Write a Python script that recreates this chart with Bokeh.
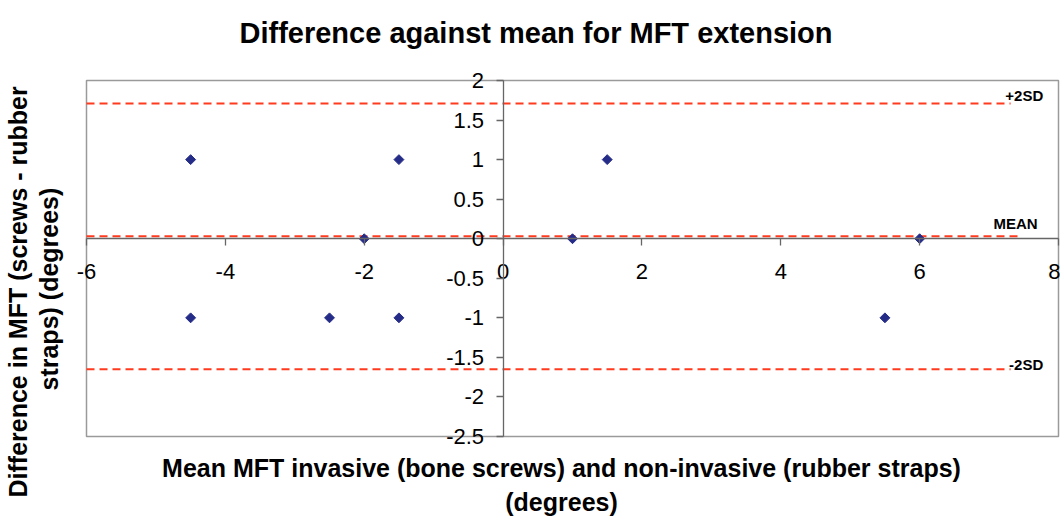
import math
from bokeh.plotting import figure
from bokeh.models import Title, FixedTicker, ColumnDataSource
from bokeh.embed import file_html
from bokeh.resources import INLINE
from bokeh.core.properties import value

# Data
mean_vals = [-4.5, -1.5, 1.5, -2.0, 1.0, 6.0, -4.5, -2.5, -1.5, 5.5]
diff_vals = [1, 1, 1, 0, 0, 0, -1, -1, -1, -1]

mean_diff = 0.03
upper_sd = 1.71
lower_sd = -1.65

x_ticks = [-6, -4, -2, 0, 2, 4, 6, 8]
y_ticks = [-2.5, -2, -1.5, -1, -0.5, 0, 0.5, 1, 1.5, 2]

ref_names = ["+2SD", "MEAN", "-2SD"]
ref_values = [upper_sd, mean_diff, lower_sd]

FONT = "Liberation Sans"


def fmt(v):
    return "%g" % v


p = figure(width=1060, height=516, output_backend="svg", toolbar_location=None,
           x_range=(-6.3457, 8.0288), y_range=(-2.6517, 2.177),
           min_border_left=62, min_border_right=0, min_border_top=66, min_border_bottom=68)

p.title.text = "Difference against mean for MFT extension"
p.title.align = "left"
p.title.offset = 177
p.title.vertical_align = "top"
p.title.text_font = FONT
p.title.text_font_size = "29px"
p.title.text_font_style = "bold"
p.title.text_color = "black"
p.title.standoff = 32

p.xgrid.visible = False
p.ygrid.visible = False
p.outline_line_color = None
p.background_fill_color = "white"

# plot box
p.quad(left=[x_ticks[0]], right=[x_ticks[-1]], bottom=[y_ticks[0]], top=[y_ticks[-1]],
       fill_color=None, line_color="#9a9a9a", line_width=1.5)

# axes crossing in the middle
for ax in (p.xaxis, p.yaxis):
    ax.fixed_location = 0
    ax.axis_line_color = "#666666"
    ax.axis_line_width = 1.3
    ax.major_tick_line_color = "#666666"
    ax.major_tick_line_width = 1.3
    ax.major_tick_in = 0
    ax.major_tick_out = 7
    ax.minor_tick_line_color = None
    ax.major_label_text_font = FONT
    ax.major_label_text_font_size = "22px"
    ax.major_label_text_color = "black"

p.xaxis.ticker = FixedTicker(ticks=x_ticks)
p.yaxis.ticker = FixedTicker(ticks=y_ticks)
p.xaxis.bounds = (x_ticks[0], x_ticks[-1])
p.yaxis.bounds = (y_ticks[0], y_ticks[-1])
p.xaxis.major_label_overrides = {t: fmt(t) for t in x_ticks}
p.yaxis.major_label_overrides = {t: fmt(t) for t in y_ticks}
p.xaxis.major_label_standoff = 18
p.yaxis.major_label_standoff = 12

# axis titles (two lines each)
tkw = dict(text_font=FONT, text_font_size="25px", text_font_style="bold",
           text_color="black")
p.add_layout(Title(text="Mean MFT invasive (bone screws) and non-invasive (rubber straps)",
                   align="center", standoff=7, **tkw), "below")
p.add_layout(Title(text="(degrees)", align="center", standoff=0, **tkw), "below")
p.add_layout(Title(text="straps) (degrees)", align="left", offset=58, standoff=0, **tkw), "left")
p.add_layout(Title(text="Difference in MFT (screws - rubber", align="left", offset=-49,
                   standoff=2, **tkw), "left")

# reference lines
src_lines = ColumnDataSource(dict(
    x0=[x_ticks[0]] * 3, x1=[7.31, 7.45, 7.31], y=ref_values))
p.segment(x0="x0", y0="y", x1="x1", y1="y", source=src_lines,
          line_color="#ff3b1f", line_width=2, line_dash="8 5")

src_lab = ColumnDataSource(dict(x=[7.78, 7.70, 7.78], y=ref_values, t=ref_names,
                                yo=[1, -4, 4]))
p.text(x="x", y="y", text="t", y_offset="yo", source=src_lab,
       text_align="right", text_baseline="bottom",
       text_font=value(FONT), text_font_size="15px", text_font_style="bold",
       text_color="black")

# points
p.scatter(mean_vals, diff_vals, marker="square", size=7, angle=math.pi / 4,
          fill_color="#252c88", line_color="#252c88")

open("out.html", "w").write(file_html(p, INLINE))
